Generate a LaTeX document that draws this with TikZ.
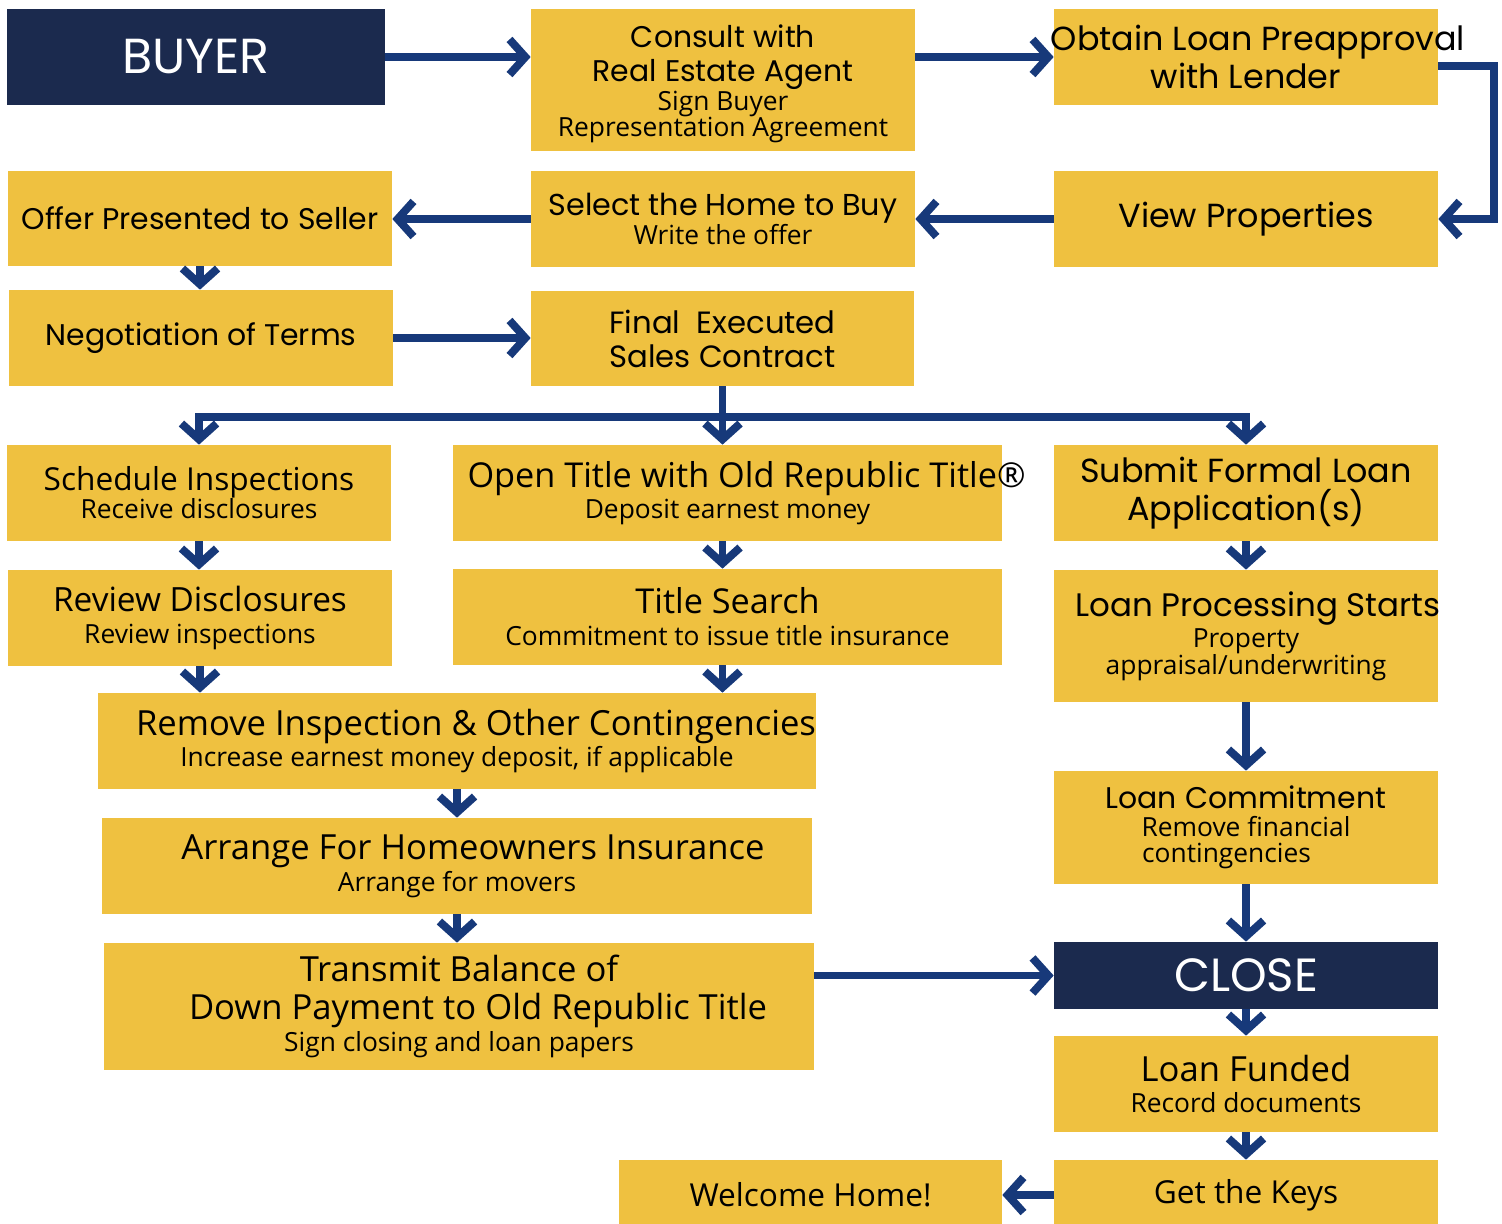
\documentclass[tikz,border=0pt]{standalone}
\usepackage{fontspec}
\setmainfont{Open Sans}
\newfontfamily\montfont{Poppins}
\usetikzlibrary{
    arrows.meta     % chevron tips of the flow arrows
}
\definecolor{boxyellow}{RGB}{239,193,64}
\definecolor{boxnavy}{RGB}{27,42,78}
\definecolor{flowblue}{RGB}{23,57,122}
\newcommand{\mt}[1]{\montfont\fontsize{#1}{#1}\selectfont}
\newcommand{\os}[1]{\fontsize{#1}{#1}\selectfont}
\newcommand{\subfont}{\lineskiplimit=-40pt\fontsize{15}{15}\selectfont}
\newcommand{\wide}[1]{\makebox[0pt]{#1}}
\tikzset{
    ybox/.style 2 args={
        fill=boxyellow, inner sep=0pt, align=center, font=\subfont,
        minimum width=#1*0.02cm, minimum height=#2*0.02cm
    },
    nbox/.style 2 args={
        ybox={#1}{#2}, fill=boxnavy, text=white
    },
    flow/.style={
        draw=flowblue, line width=4.5pt,
        -{Straight Barb[sharp, length=9pt, width=20pt]}
    }
}

\begin{document}
\begin{tikzpicture}[x=0.02cm, y=-0.02cm]
        \useasboundingbox (0,0) rectangle (1502,1224);

        % first rows
        \node[nbox={378}{96}] (buyer) at (196,57) {\mt{28}BUYER};
        \node[ybox={384}{142}] (consult) at (723,80)
            {{\mt{17}\rule{0pt}{17pt}Consult with}\\[4.3pt]{\mt{17}Real Estate Agent}\\[1.4pt]
             Sign Buyer\\[-0.3pt]Representation Agreement};
        \node[ybox={384}{96}] (obtain) at (1246,57)
            {\wide{\mt{19}\hspace{0.48cm}Obtain Loan Preapproval}\\[7pt]{\mt{19}with Lender}};
        \node[ybox={384}{95}] (offer) at (200,218.5) {\mt{17}Offer Presented to Seller};
        \node[ybox={384}{96}] (select) at (723,219)
            {{\mt{17.2}Select the Home to Buy}\\[1.5pt]Write the offer};
        \node[ybox={384}{96}] (view) at (1246,219) {\mt{19}View Properties};
        \node[ybox={384}{96}] (nego) at (201,338) {\mt{17}Negotiation of Terms};
        \node[ybox={383}{95}] (final) at (722.5,338.5)
            {{\mt{17.5}Final\ \ Executed}\\[4.3pt]{\mt{17.5}Sales Contract}};

        % three columns
        \node[ybox={384}{96}] (sched) at (199,493)
            {{\os{18}Schedule Inspections}\\[1pt]Receive disclosures};
        \node[ybox={549}{96}] (opentitle) at (727.5,493)
            {\wide{\os{19.5}\hspace{0.76cm}Open Title with Old Republic Title®}\\[3pt]Deposit earnest money};
        \node[ybox={384}{96}] (submit) at (1246,493)
            {{\mt{19}Submit Formal Loan}\\[6.5pt]{\mt{19}Application(s)}};
        \node[ybox={384}{96}] (review) at (200,618)
            {{\os{19}Review Disclosures}\\[3pt]Review inspections};
        \node[ybox={549}{96}] (titlesearch) at (727.5,617)
            {{\os{19.5}Title Search}\\[3.2pt]Commitment to issue title insurance};
        \node[ybox={384}{132}] (processing) at (1246,636)
            {\wide{\mt{18.5}\hspace{0.48cm}Loan Processing Starts}\\[3pt]Property\\appraisal/underwriting};
        \node[ybox={718}{96}] (remove) at (457,741)
            {\wide{\os{19.7}\hspace{0.76cm}Remove Inspection \& Other Contingencies}\\[3pt]
             Increase earnest money deposit, if applicable};
        \node[ybox={384}{113}] (commitment) at (1246,827.5)
            {{\mt{17}Loan Commitment}\\[1pt]Remove financial\\contingencies\kern0.78cm};
        \node[ybox={710}{96}] (arrange) at (457,866)
            {{\os{19.7}\hspace{0.64cm}Arrange For Homeowners Insurance}\\[3pt]Arrange for movers};
        \node[ybox={710}{127}] (transmit) at (459,1006.5)
            {{\os{19.7}Transmit Balance of}\\[6.5pt]{\os{19.7}\hspace{0.76cm}Down Payment to Old Republic Title}\\[3pt]
             Sign closing and loan papers};

        % closing
        \node[nbox={384}{67}] (close) at (1246,975.5) {\mt{26.5}CLOSE};
        \node[ybox={384}{96}] (funded) at (1246,1084)
            {{\os{19.7}Loan Funded}\\[3pt]Record documents};
        \node[ybox={383}{70}] (welcome) at (810.5,1195) {\os{18}Welcome Home!};
        \node[ybox={384}{70}] (keys) at (1246,1195) {\os{18}Get the Keys};

        % connecting arrows
        \draw[flow] (buyer.east) -- (buyer.east -| consult.west);
        \draw[flow] (consult.east |- obtain.west) -- (obtain.west);
        \draw[flow] ([yshift=-0.18cm]obtain.east) -- ++(1.12cm,0) |- (view.east);
        \draw[flow] (view.west) -- (view.west -| select.east);
        \draw[flow] (select.west) -- (select.west -| offer.east);
        \draw[flow] (offer.south) -- (offer.south |- nego.north);
        \draw[flow] (nego.east) -- (nego.east -| final.west);
        \coordinate (split) at ([yshift=-0.62cm]final.south);
        \draw[flow] (final.south) -- (final.south |- opentitle.north);
        \draw[flow] (split) -| (sched.north);
        \draw[flow] (split) -| (submit.north);
        \draw[flow] (sched.south) -- (sched.south |- review.north);
        \draw[flow] (review.south) -- (review.south |- remove.north);
        \draw[flow] (final.south |- opentitle.south) -- (final.south |- titlesearch.north);
        \draw[flow] (final.south |- titlesearch.south) -- (final.south |- remove.north);
        \draw[flow] (remove.south) -- (remove.south |- arrange.north);
        \draw[flow] (arrange.south) -- (arrange.south |- transmit.north);
        \draw[flow] (transmit.east |- close.west) -- (close.west);
        \draw[flow] (submit.south) -- (processing.north);
        \draw[flow] (processing.south) -- (commitment.north);
        \draw[flow] (commitment.south) -- (close.north);
        \draw[flow] (close.south) -- (funded.north);
        \draw[flow] (funded.south) -- (keys.north);
        \draw[flow] (keys.west) -- (welcome.east);
\end{tikzpicture}
\end{document}
